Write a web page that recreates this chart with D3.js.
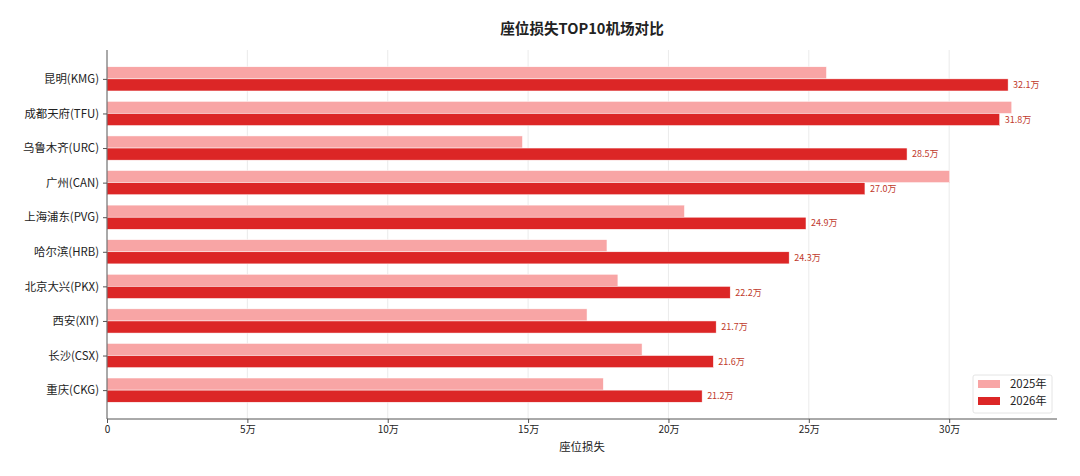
<!DOCTYPE html>
<html><head><meta charset="utf-8">
<script src="https://cdn.jsdelivr.net/npm/d3@7"></script>
<style>
html,body{margin:0;padding:0;background:#fff;}
svg{display:block;font-family:"Noto Sans CJK SC","Noto Sans",sans-serif;}
</style></head>
<body>
<svg id="chart" width="1080" height="476"></svg>
<script>
const airports = ["昆明(KMG)","成都天府(TFU)","乌鲁木齐(URC)","广州(CAN)","上海浦东(PVG)","哈尔滨(HRB)","北京大兴(PKX)","西安(XIY)","长沙(CSX)","重庆(CKG)"];
const values2025 = [25.63, 32.23, 14.8, 30.02, 20.57, 17.81, 18.2, 17.1, 19.06, 17.68];
const values2026 = [32.1, 31.8, 28.5, 27.0, 24.9, 24.3, 22.2, 21.7, 21.6, 21.2];
const xTicks = [0, 5, 10, 15, 20, 25, 30];
const seriesNames = ["2025年", "2026年"];
const colors = ["#f8a5a5", "#dc2626"];

(function () {
const svg = d3.select("#chart");
const mLeft = 107, mRight = 1057, mTop = 50, mBottom = 419;
const barH = 0.35;
const maxV = d3.max(values2025.concat(values2026));
const x = d3.scaleLinear().domain([0, maxV * 1.05]).range([mLeft, mRight]);
const pad = (airports.length - 1 + 2 * barH) * 0.05;
const y = d3.scaleLinear().domain([-barH - pad, airports.length - 1 + barH + pad]).range([mTop, mBottom]);

// grid
svg.append("g").selectAll("line").data(xTicks.slice(1)).join("line")
  .attr("x1", d => x(d)).attr("x2", d => x(d))
  .attr("y1", mTop).attr("y2", mBottom)
  .attr("stroke", "#e6e6e6").attr("stroke-width", 0.8);

// bars
const series = [values2025, values2026];
series.forEach((vals, si) => {
  svg.append("g").selectAll("rect").data(vals).join("rect")
    .attr("x", x(0))
    .attr("y", (d, i) => y(i + (si === 0 ? -barH : 0)))
    .attr("width", d => x(d) - x(0))
    .attr("height", y(barH) - y(0))
    .attr("fill", colors[si])
    .attr("stroke", "#fff").attr("stroke-width", 0.5);
});

// value labels
svg.append("g").selectAll("text").data(values2026).join("text")
  .attr("x", d => x(d) + 5)
  .attr("y", (d, i) => y(i + barH / 2))
  .attr("dy", "0.35em")
  .attr("font-size", 9)
  .attr("fill", "#c0392b")
  .text(d => d.toFixed(1) + "万");

// x axis
const xAxis = d3.axisBottom(x).tickValues(xTicks)
  .tickFormat(d => d === 0 ? "0" : d + "万").tickSize(4).tickPadding(3);
const gx = svg.append("g").attr("transform", `translate(0,${mBottom})`).call(xAxis);
gx.select(".domain").attr("stroke", "#555").attr("d", `M${mLeft},0H${mRight}`);
gx.selectAll(".tick line").attr("stroke", "#555");
gx.selectAll("text").attr("font-size", 10).attr("fill", "#222").attr("font-family", '"Noto Sans CJK SC",sans-serif');

// y axis
const yAxis = d3.axisLeft(y).tickValues(d3.range(airports.length))
  .tickFormat(i => airports[i]).tickSize(4).tickPadding(4);
const gy = svg.append("g").attr("transform", `translate(${mLeft},0)`).call(yAxis);
gy.select(".domain").attr("stroke", "#555").attr("d", `M0,${mTop}V${mBottom}`);
gy.selectAll(".tick line").attr("stroke", "#555");
gy.selectAll("text").attr("font-size", 11.4).attr("fill", "#222").attr("font-family", '"Noto Sans CJK SC",sans-serif');

// title
svg.append("text").attr("x", (mLeft + mRight) / 2).attr("y", 34)
  .attr("text-anchor", "middle").attr("font-size", 14.6).attr("font-weight", "bold")
  .attr("fill", "#222").text("座位损失TOP10机场对比");

// x label
svg.append("text").attr("x", (mLeft + mRight) / 2).attr("y", 451)
  .attr("text-anchor", "middle").attr("font-size", 11.4).attr("fill", "#222")
  .text("座位损失");

// legend
const lg = svg.append("g").attr("transform", "translate(973,375)");
lg.append("rect").attr("width", 79).attr("height", 38).attr("rx", 2)
  .attr("fill", "#fff").attr("stroke", "#ddd").attr("stroke-width", 0.8);
seriesNames.forEach((n, i) => {
  lg.append("rect").attr("x", 5).attr("y", 5 + i * 17).attr("width", 22).attr("height", 8).attr("fill", colors[i]);
  lg.append("text").attr("x", 37).attr("y", 9 + i * 17).attr("dy", "0.35em")
    .attr("font-size", 11.4).attr("fill", "#222").text(n);
});
})();
</script>
</body></html>
